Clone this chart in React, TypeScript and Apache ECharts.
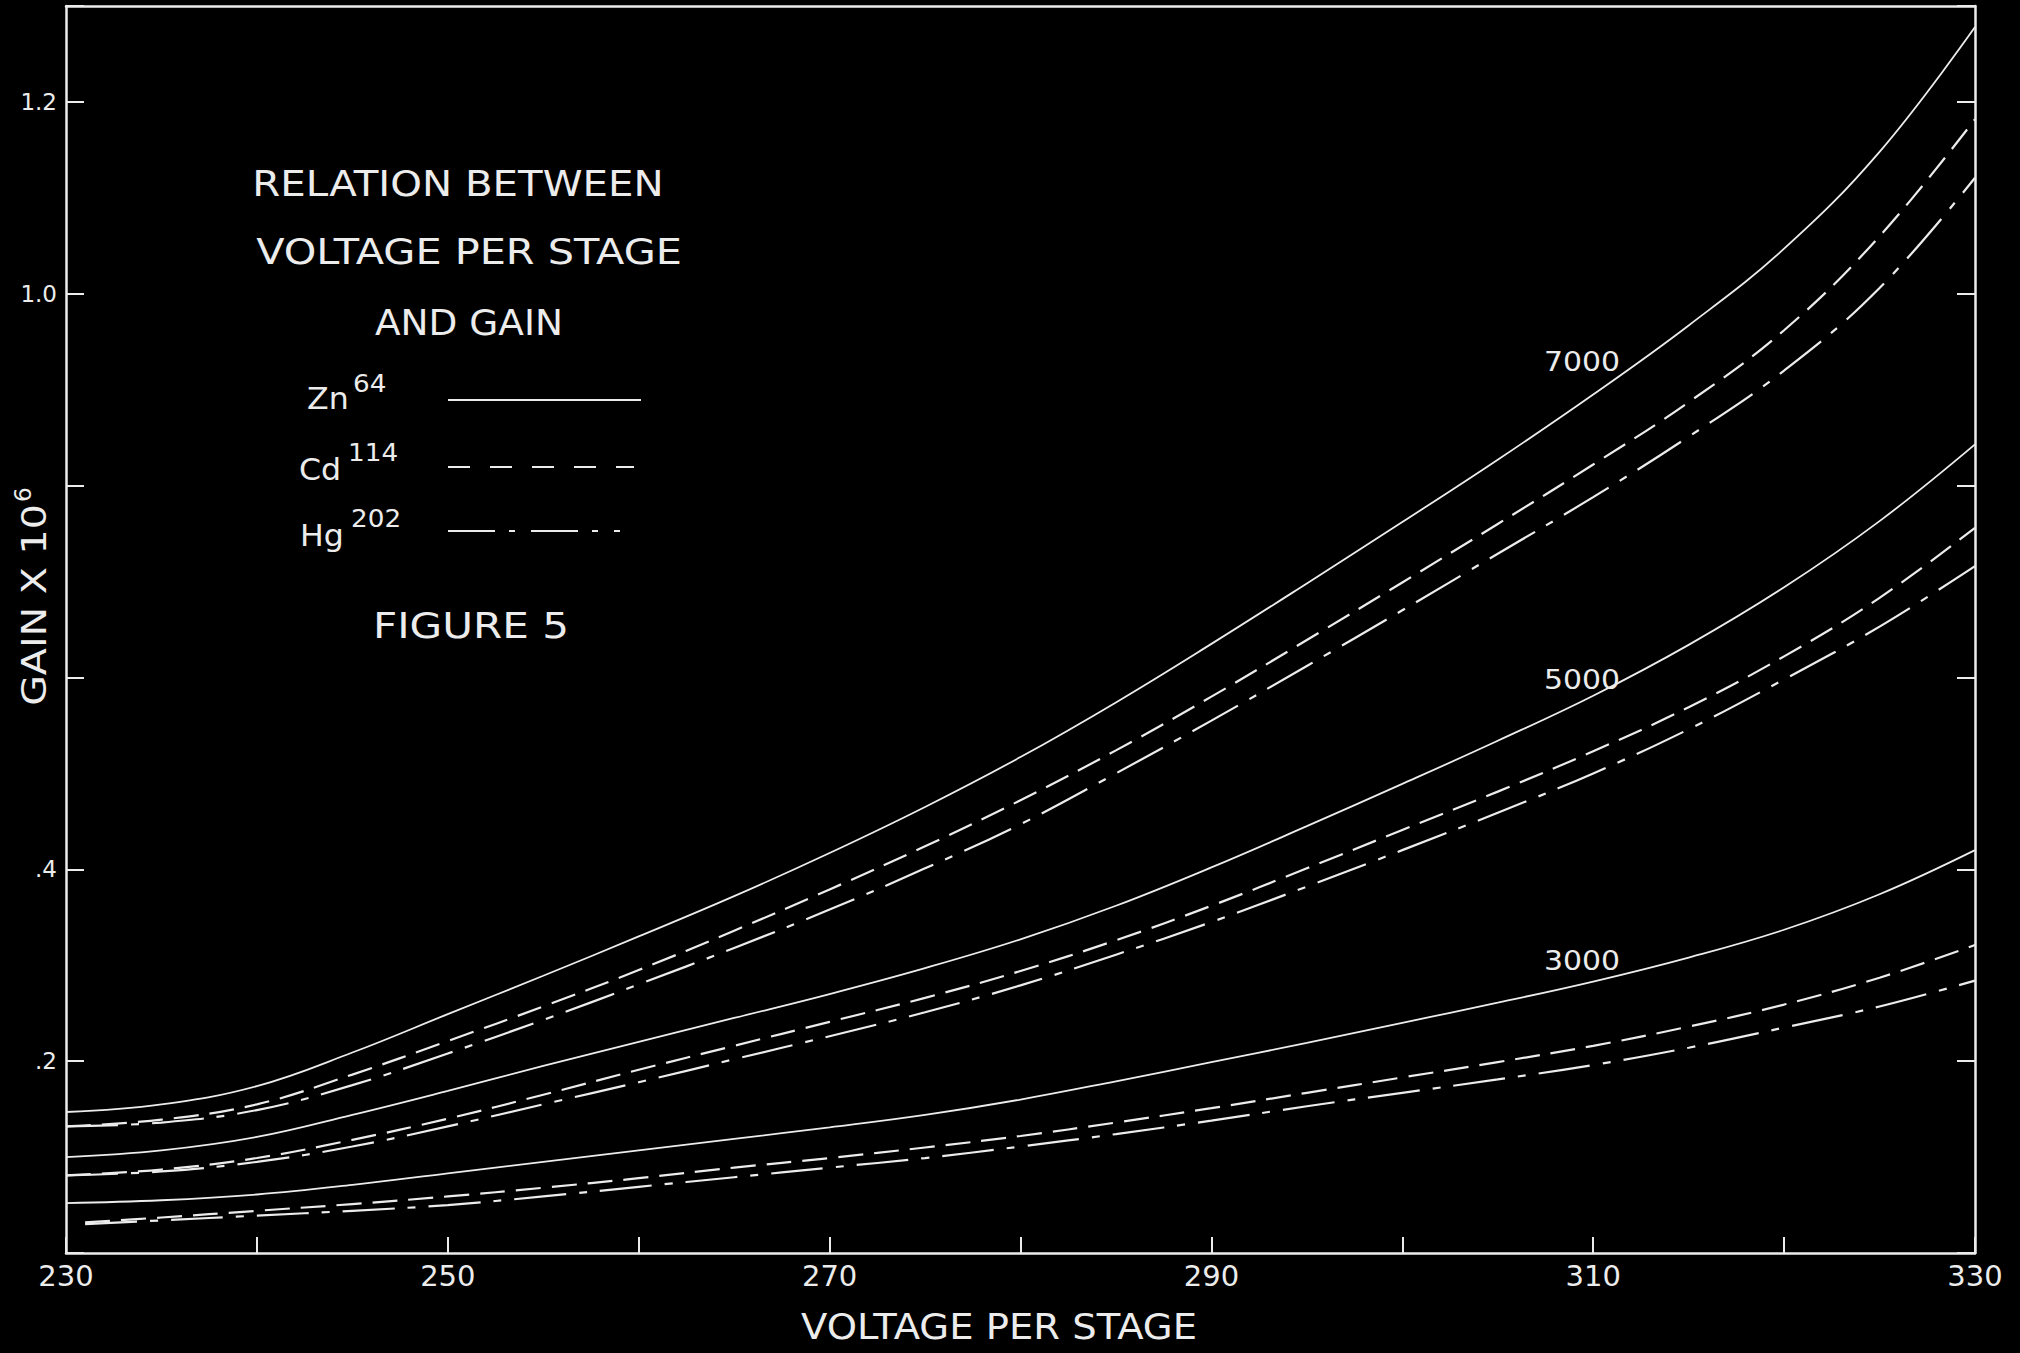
import React, { useEffect, useRef } from "react";
import * as echarts from "echarts";

// Voltage per stage (x)
const volts = [230, 235, 240, 245, 250, 255, 260, 265, 270, 275, 280, 285, 290, 295, 300, 305, 310, 315, 320, 325, 330];
const voltsLow = [231, 235, 240, 245, 250, 255, 260, 265, 270, 275, 280, 285, 290, 295, 300, 305, 310, 315, 320, 325, 330];

// Gain x 10^6 — 7000 group
const zn7000 = [0.147, 0.155, 0.174, 0.209, 0.249, 0.289, 0.330, 0.372, 0.417, 0.465, 0.517, 0.574, 0.635, 0.698, 0.762, 0.827, 0.895, 0.967, 1.047, 1.148, 1.278];
const cd7000 = [0.132, 0.139, 0.155, 0.186, 0.221, 0.257, 0.295, 0.336, 0.379, 0.424, 0.472, 0.524, 0.580, 0.639, 0.699, 0.760, 0.822, 0.887, 0.962, 1.060, 1.182];
const hg7000 = [0.132, 0.136, 0.149, 0.175, 0.208, 0.243, 0.280, 0.318, 0.358, 0.401, 0.447, 0.500, 0.555, 0.612, 0.670, 0.729, 0.788, 0.851, 0.920, 1.006, 1.121];

// 5000 group
const zn5000 = [0.100, 0.107, 0.121, 0.144, 0.169, 0.195, 0.220, 0.245, 0.270, 0.297, 0.327, 0.362, 0.402, 0.445, 0.489, 0.534, 0.581, 0.634, 0.694, 0.763, 0.843];
const cd5000 = [0.081, 0.087, 0.099, 0.118, 0.140, 0.165, 0.191, 0.216, 0.241, 0.266, 0.294, 0.326, 0.362, 0.401, 0.441, 0.481, 0.523, 0.569, 0.622, 0.683, 0.756];
const hg5000 = [0.081, 0.085, 0.095, 0.111, 0.132, 0.155, 0.178, 0.202, 0.226, 0.251, 0.279, 0.311, 0.345, 0.382, 0.420, 0.459, 0.500, 0.546, 0.598, 0.653, 0.716];

// 3000 group
const zn3000 = [0.052, 0.055, 0.061, 0.071, 0.083, 0.095, 0.107, 0.119, 0.131, 0.144, 0.160, 0.179, 0.199, 0.219, 0.240, 0.261, 0.283, 0.308, 0.337, 0.374, 0.420];
const cd3000 = [0.032, 0.037, 0.044, 0.051, 0.059, 0.068, 0.078, 0.089, 0.099, 0.110, 0.122, 0.136, 0.151, 0.167, 0.183, 0.199, 0.216, 0.236, 0.259, 0.287, 0.321];
const hg3000 = [0.030, 0.034, 0.039, 0.044, 0.050, 0.059, 0.069, 0.079, 0.089, 0.099, 0.111, 0.124, 0.138, 0.153, 0.167, 0.181, 0.196, 0.214, 0.235, 0.257, 0.284];

// Tick labels
const xLabelValues = [230, 250, 270, 290, 310, 330];
const yLabelValues = [0.2, 0.4, 1.0, 1.2];
const yLabelTexts = [".2", ".4", "1.0", "1.2"];

const groupLabels = ["7000", "5000", "3000"];
const isotopes = ["Zn64", "Cd114", "Hg202"];

const FG = "#ececec";
const FONT = "DejaVu Sans";

const solidStyle = { color: FG, width: 1.8, type: "solid" as const };
const dashStyle = { color: FG, width: 2.2, type: [25, 11] as any };
const dashDotStyle = { color: FG, width: 2.2, type: [52, 13, 8, 13] as any };

function mk(name: string, xs: number[], ys: number[], ls: any) {
  return {
    type: "line",
    name,
    data: xs.map((x, i) => [x, ys[i]]),
    smooth: 0.4,
    symbol: "none",
    showSymbol: false,
    silent: true,
    lineStyle: ls,
  };
}

function txt(text: string, x: number, y: number, size: number, align = "center", sx = 1) {
  return {
    type: "text",
    x,
    y,
    scaleX: sx,
    silent: true,
    style: {
      text,
      fill: FG,
      fontSize: size,
      fontFamily: FONT,
      textAlign: align,
      textVerticalAlign: "middle",
    },
  };
}

function legendLine(x1: number, x2: number, y: number, dash: number[] | null) {
  return {
    type: "line",
    silent: true,
    shape: { x1, y1: y, x2, y2: y },
    style: { stroke: FG, lineWidth: 2, lineDash: dash || undefined },
  };
}

export default function App() {
  const ref = useRef<HTMLDivElement>(null);
  useEffect(() => {
    document.body.style.margin = "0";
    document.body.style.background = "#000";
    document.body.style.overflow = "hidden";
    const chart = echarts.init(ref.current!, null, { renderer: "svg" });

    const axisLine = { show: true, onZero: false, lineStyle: { color: FG, width: 2.5 } };

    const series = [
      mk(`${isotopes[0]} ${groupLabels[0]}`, volts, zn7000, solidStyle),
      mk(`${isotopes[1]} ${groupLabels[0]}`, volts, cd7000, dashStyle),
      mk(`${isotopes[2]} ${groupLabels[0]}`, volts, hg7000, dashDotStyle),
      mk(`${isotopes[0]} ${groupLabels[1]}`, volts, zn5000, solidStyle),
      mk(`${isotopes[1]} ${groupLabels[1]}`, volts, cd5000, dashStyle),
      mk(`${isotopes[2]} ${groupLabels[1]}`, volts, hg5000, dashDotStyle),
      mk(`${isotopes[0]} ${groupLabels[2]}`, volts, zn3000, solidStyle),
      mk(`${isotopes[1]} ${groupLabels[2]}`, voltsLow, cd3000, dashStyle),
      mk(`${isotopes[2]} ${groupLabels[2]}`, voltsLow, hg3000, dashDotStyle),
    ];

    const option: any = {
      animation: false,
      backgroundColor: "#000",
      grid: { left: 66, right: 45, top: 6, bottom: 100, containLabel: false },
      xAxis: [
        {
          type: "value",
          min: 230,
          max: 330,
          interval: 10,
          position: "bottom",
          axisLine,
          axisTick: { show: true, inside: true, length: 16, lineStyle: { color: FG, width: 2 } },
          axisLabel: {
            color: FG,
            fontSize: 29,
            fontFamily: FONT,
            margin: 8,
            formatter: (v: number) => (xLabelValues.includes(Math.round(v)) ? String(Math.round(v)) : ""),
          },
          splitLine: { show: false },
        },
        {
          type: "value",
          min: 230,
          max: 330,
          position: "top",
          axisLine,
          axisTick: { show: false },
          axisLabel: { show: false },
          splitLine: { show: false },
        },
      ],
      yAxis: [
        {
          type: "value",
          min: 0,
          max: 1.3,
          interval: 0.2,
          position: "left",
          axisLine,
          axisTick: { show: true, inside: true, length: 18, lineStyle: { color: FG, width: 2 } },
          axisLabel: {
            color: FG,
            fontSize: 23,
            fontFamily: FONT,
            margin: 9,
            formatter: (v: number) => {
              const i = yLabelValues.findIndex((t) => Math.abs(t - v) < 1e-6);
              return i >= 0 ? yLabelTexts[i] : "";
            },
          },
          splitLine: { show: false },
        },
        {
          type: "value",
          min: 0,
          max: 1.3,
          interval: 0.2,
          position: "right",
          axisLine,
          axisTick: { show: true, inside: true, length: 18, lineStyle: { color: FG, width: 2 } },
          axisLabel: { show: false },
          splitLine: { show: false },
        },
      ],
      series,
      graphic: [
        txt("RELATION BETWEEN", 458, 184, 36, "center", 1.12),
        txt("VOLTAGE PER STAGE", 469, 251, 36, "center", 1.15),
        txt("AND GAIN", 469, 323, 36, "center", 1.04),
        txt("Zn", 307, 398, 31, "left", 1.02),
        txt("64", 353, 383, 25, "left", 1.05),
        txt("Cd", 299, 469, 31, "left", 1.02),
        txt("114", 348, 452, 25, "left", 1.05),
        txt("Hg", 300, 535, 31, "left", 1.02),
        txt("202", 351, 518, 25, "left", 1.05),
        legendLine(448, 641, 400, null),
        legendLine(448, 634, 467, [22, 20]),
        legendLine(448, 620, 531, [47, 14, 6, 16]),
        txt("FIGURE 5", 471, 626, 36, "center", 1.17),
        txt(groupLabels[0], 1582, 362, 26, "center", 1.15),
        txt(groupLabels[1], 1582, 680, 26, "center", 1.15),
        txt(groupLabels[2], 1582, 961, 26, "center", 1.15),
        txt("VOLTAGE PER STAGE", 999, 1327, 35, "center", 1.1),
        {
          type: "group",
          x: 35,
          y: 605,
          rotation: Math.PI / 2,
          children: [
            {
              type: "text",
              x: 0,
              y: 0,
              scaleX: 1.2,
              silent: true,
              style: { text: "GAIN X 10", fill: FG, fontSize: 33, fontFamily: FONT, textAlign: "center", textVerticalAlign: "middle" },
            },
            {
              type: "text",
              x: 103,
              y: -12,
              silent: true,
              style: { text: "6", fill: FG, fontSize: 23, fontFamily: FONT, textAlign: "left", textVerticalAlign: "middle" },
            },
          ],
        },
      ],
    };

    chart.setOption(option);
    return () => chart.dispose();
  }, []);

  return (
    <div
      ref={ref}
      style={{ position: "absolute", left: 0, top: 0, width: 2020, height: 1353, background: "#000" }}
    />
  );
}
